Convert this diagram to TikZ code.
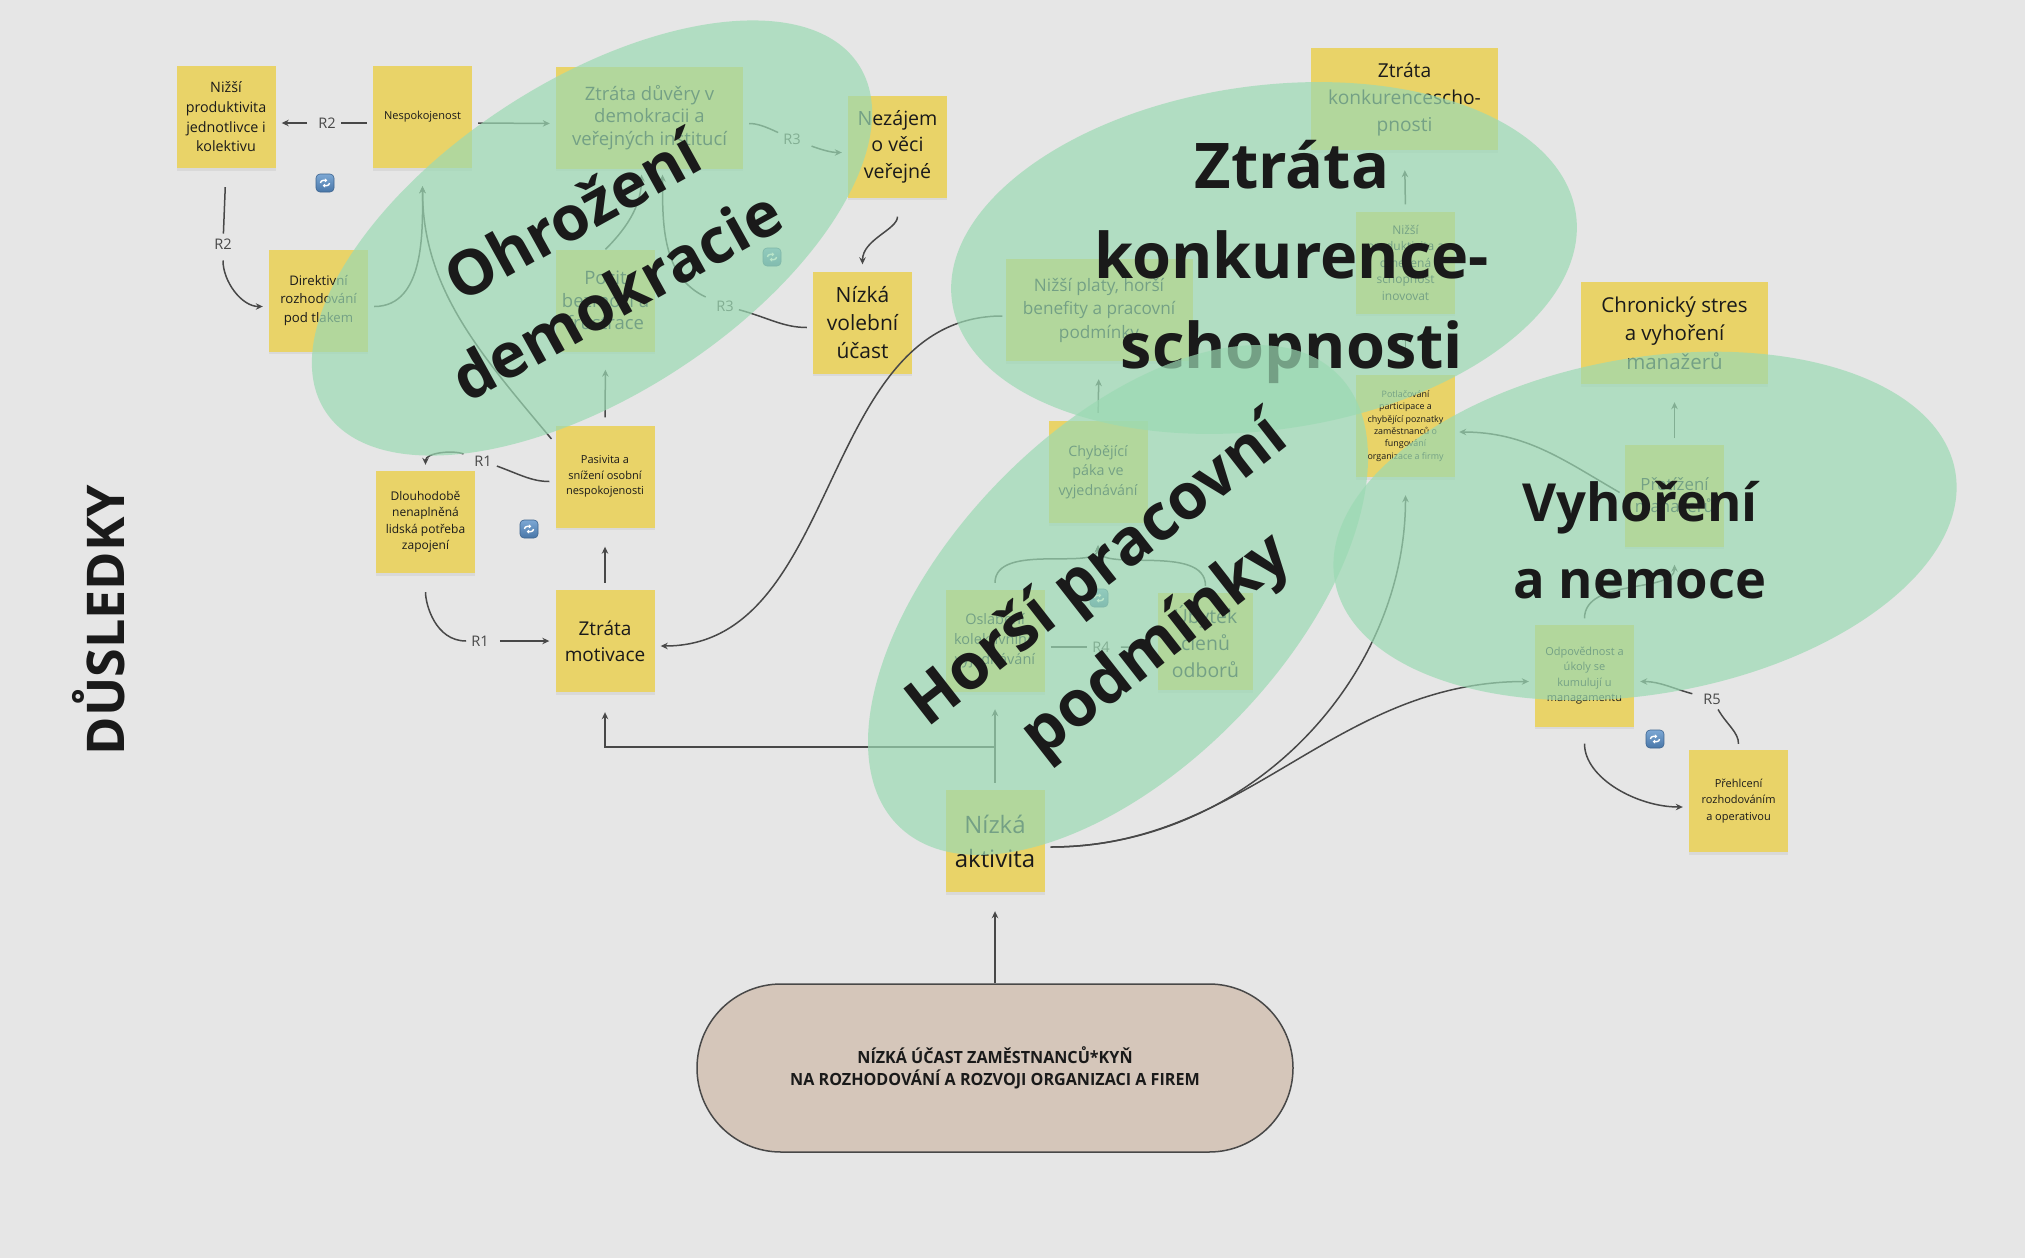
\documentclass[tikz,border=0pt]{standalone}
\usepackage{fontspec}
\setmainfont{Open Sans}
\newfontfamily\condfont{Open Sans}[FakeStretch=0.96]
\usetikzlibrary{arrows.meta,shadows}
\definecolor{bgcol}{RGB}{230,230,230}
\definecolor{notecol}{RGB}{233,211,104}
\definecolor{blobcol}{RGB}{155,218,179}
\definecolor{linecol}{RGB}{72,72,72}
\definecolor{ink}{RGB}{26,26,26}
\definecolor{rootcol}{RGB}{213,198,186}
\definecolor{icontop}{RGB}{125,168,212}
\definecolor{iconbot}{RGB}{72,118,168}
\tikzset{
	note/.style={rectangle, fill=notecol, minimum width=99pt, minimum height=102pt, inner sep=0pt, align=center, text=ink, drop shadow={shadow xshift=0pt, shadow yshift=-2.5pt, opacity=0.12}},
	widenote/.style={note, minimum width=187pt},
	fsz/.style 2 args={font=\fontsize{#1}{#2}\selectfont},
	wire/.style={draw=linecol, line width=1.5pt, shorten <=6pt},
	arr/.style={wire, shorten >=6pt, -{Stealth[length=7pt,width=6.5pt]}},
	rlab/.style={fsz={14.6}{16}, text=linecol, inner sep=5pt},
	blob/.style={fill=blobcol, fill opacity=0.7},
	bigtext/.style 2 args={align=center, text=ink, font=\fontsize{#1}{#2}\selectfont\bfseries},
	loopbox/.style={rectangle, rounded corners=4pt, minimum size=18pt, inner sep=0pt, top color=icontop, bottom color=iconbot, draw=iconbot!85!black, line width=0.6pt},
	loopmark/.style={draw=white, line width=1.4pt, -{Triangle[length=2.4pt,width=4pt]}},
}
\def\loopicon#1(#2){%
	\node[loopbox] (#1) at (#2) {};
	\draw[loopmark] ([xshift=-4.5pt]#1.center) arc[start angle=180,end angle=90,radius=2.6pt] -- ++(4.2pt,0pt);
	\draw[loopmark] ([xshift=4.5pt]#1.center) arc[start angle=0,end angle=-90,radius=2.6pt] -- ++(-4.2pt,0pt);
}

\begin{document}
\begin{tikzpicture}[x=1pt,y=-1pt]
			%%%%% START %%%%%
			
			\fill[bgcol] (0,0) rectangle (2025,1258);
			\useasboundingbox (0,0) rectangle (2025,1258);
			
			\node[bigtext={52}{60}, rotate=90] (dusledky) at (99,620) {DŮSLEDKY};
			
			% notes, left part
			\node[note, fsz={14.3}{19.7}] (nizsiprod) at (226,117) {Nižší\\produktivita\\jednotlivce i\\kolektivu};
			\node[note, fsz={11}{15}] (nespok) at (422.5,117) {Nespokojenost};
			\node[widenote, fsz={18.5}{22.8}] (duvera) at (649.5,117.5) {Ztráta důvěry v\\demokracii a\\veřejných institucí};
			\node[note, fsz={19.6}{26.5}] (nezajem) at (897.5,146.5) {Nezájem\\o věci\\veřejné};
			\node[note, fsz={21}{28}] (volebni) at (862.5,322.5) {Nízká\\volební\\účast};
			\node[note, fsz={13.2}{18.3}] (direkt) at (318.5,300.5) {Direktivní\\rozhodování\\pod tlakem};
			\node[note, fsz={18.5}{22.5}] (pocit) at (605.5,300.5) {Pocit\\bezmoci a\\frustrace};
			\node[note, fsz={11}{15.5}] (pasivita) at (605,476.5) {Pasivita a\\snížení osobní\\nespokojenosti};
			\node[note, fsz={12}{16.4}] (dlouho) at (425.5,522) {Dlouhodobě\\nenaplněná\\lidská potřeba\\zapojení};
			\node[note, fsz={19}{26}] (motivace) at (605,641) {Ztráta\\motivace};
			
			% notes, middle part
			\node[widenote, fsz={17.2}{23.5}] (platy) at (1099,310) {Nižší platy, horší\\benefity a pracovní\\podmínky};
			\node[note, fsz={14.3}{19.5}] (packa) at (1098,472) {Chybějící\\páka ve\\vyjednávání};
			\node[note, fsz={14.5}{20}] (oslab) at (995,641) {Oslabení\\kolektivního\\vyjednávání};
			\node[note, minimum width=95pt, minimum height=97pt, fsz={19.4}{27}] (ubytek) at (1205.5,641.5) {Úbytek\\členů\\odborů};
			\node[note, fsz={24}{34}] (aktivita) at (995,841) {Nízká\\aktivita};
			
			% notes, right part
			\node[widenote, fsz={19.2}{27}] (konkur) at (1404.5,99) {Ztráta\\konkurencescho-\\pnosti};
			\node[note, fsz={12}{16.5}] (inovace) at (1405.5,262.5) {Nižší\\produktivita a\\omezená\\schopnost\\inovovat};
			\node[note, fsz={8.9}{12.3}] (potlac) at (1405.5,426) {Potlačování\\participace a\\chybějící poznatky\\zaměstnanců o\\fungování\\organizace a firmy};
			\node[widenote, fsz={20.5}{28.5}] (stres) at (1674.5,333) {Chronický stres\\a vyhoření\\manažerů};
			\node[note, fsz={16.8}{22}] (pretiz) at (1674.5,495.5) {Přetížení\\manažerů};
			\node[note, fsz={11}{15.3}] (odpov) at (1584.5,675.5) {Odpovědnost a\\úkoly se\\kumulují u\\managamentu};
			\node[note, fsz={11}{16.5}] (prehl) at (1738.5,801) {Přehlcení\\rozhodováním\\a operativou};
			
			\node[rectangle, rounded corners=84pt, minimum width=596pt, minimum height=168pt, fill=rootcol, draw=linecol, line width=1.5pt, align=center, text=ink, font=\condfont\bfseries\fontsize{16.8}{21.7}\selectfont] (zdroj) at (995,1068) {NÍZKÁ ÚČAST ZAMĚSTNANCŮ*KYŇ\\NA ROZHODOVÁNÍ A ROZVOJI ORGANIZACI A FIREM};
			
			% loop labels
			\node[rlab] (r2top) at (327,123) {R2};
			\node[rlab] (r2left) at (223,244) {R2};
			\node[rlab] (r3top) at (792,139) {R3};
			\node[rlab] (r3low) at (725,306) {R3};
			\node[rlab] (r1top) at (483,461) {R1};
			\node[rlab] (r1low) at (480,641) {R1};
			\node[rlab] (r4) at (1101,647) {R4};
			\node[rlab] (r5) at (1712,699) {R5};
			\coordinate (split) at (995,747);
			
			% R2
			\draw[wire] ([yshift=-6pt]nespok.west) -- (r2top);
			\draw[arr] (r2top) -- ([yshift=-6pt]nizsiprod.east);
			\draw[wire, shorten <=19pt] (nizsiprod.south) -- (r2left);
			\draw[arr] (r2left) to[out=-90,in=180] ([yshift=-6pt]direkt.west);
			\draw[arr, shorten >=18pt] ([yshift=-6pt]direkt.east) to[out=0,in=-90] (nespok.south);
			\draw[arr, shorten >=18pt] ([yshift=33pt]pasivita.west) to[out=130,in=-90] (nespok.south);
			
			% R3
			\draw[arr] ([yshift=-6pt]nespok.east) -- ([yshift=-6pt]duvera.west);
			\draw[wire] ([yshift=-6pt]duvera.east) to[out=0,in=155] (r3top);
			\draw[arr] (r3top) to[out=-20,in=180] ([yshift=-6pt]nezajem.west);
			\draw[arr, shorten <=19pt, shorten >=7pt] (nezajem.south) to[out=-90,in=90] (volebni.north);
			\draw[wire] ([yshift=-5pt]volebni.west) to[out=180,in=-15] (r3low);
			\draw[arr] (r3low) to[out=155,in=-90] ([xshift=13pt]duvera.south);
			\draw[arr, shorten <=0pt] (pocit.north) to[out=45,in=-90] ([xshift=-8pt]duvera.south);
			\draw[arr, shorten <=8pt, shorten >=18pt] (pasivita.north) -- (pocit.south);
			
			% R1
			\draw[arr, shorten <=7pt, shorten >=19pt] (motivace.north) -- (pasivita.south);
			\draw[wire] ([yshift=-5pt]pasivita.west) to[out=180,in=-20] (r1top);
			\draw[arr] (r1top) to[out=160,in=90] (dlouho.north);
			\draw[wire, shorten <=19pt] (dlouho.south) to[out=-90,in=180] (r1low);
			\draw[arr] (r1low) -- (motivace.west);
			\draw[arr, shorten <=3pt] ([yshift=-6pt]platy.west) to[out=180,in=0] ([yshift=-5pt]motivace.east);
			
			% R4
			\draw[arr, shorten <=7pt, shorten >=17pt] (aktivita.north) -- (oslab.south);
			\draw[arr, shorten <=0pt, shorten >=20pt] (split) -| (motivace.south);
			\draw[wire] ([yshift=-6pt]oslab.east) -- (r4);
			\draw[arr] (r4) -- ([yshift=-6pt]ubytek.west);
			\draw[arr, shorten <=7pt, shorten >=22pt] (oslab.north) to[out=90,in=-90] (packa.south);
			\draw[arr, shorten <=7pt, shorten >=22pt] (ubytek.north) to[out=90,in=-90] (packa.south);
			\draw[arr, shorten <=8pt, shorten >=18pt] (packa.north) -- (platy.south);
			
			% right part
			\draw[arr, shorten <=7pt, shorten >=20pt] (inovace.north) -- (konkur.south);
			\draw[arr, shorten <=7pt, shorten >=20pt] (potlac.north) -- (inovace.south);
			\draw[arr, shorten >=4pt] (pretiz.west) to[out=150,in=0] ([yshift=-6pt]potlac.east);
			\draw[arr, shorten >=18pt] (pretiz.north) -- (stres.south);
			\draw[arr, shorten >=18pt] (odpov.north) to[out=90,in=-90] (pretiz.south);
			\draw[arr, shorten <=17pt] (odpov.south) to[out=-90,in=180] ([yshift=-6pt]prehl.west);
			\draw[wire] (prehl.north) to[out=90,in=-60] (r5);
			\draw[arr] (r5) to[out=165,in=0] ([yshift=-6pt]odpov.east);
			\draw[arr, shorten >=18pt] ([yshift=-6pt]aktivita.east) to[out=0,in=-90] (potlac.south);
			\draw[arr] ([yshift=-6pt]aktivita.east) to[out=0,in=180] ([yshift=-6pt]odpov.west);
			\draw[arr, shorten <=0pt, shorten >=19pt] (zdroj.north) -- (aktivita.south);
			
			\loopicon{loopa}(325,183)
			\loopicon{loopb}(529,529)
			\loopicon{loopc}(772,257)
			\loopicon{loopd}(1099,598)
			\loopicon{loope}(1655,739)
			
			% groups
			\fill[blob, shift={(592,238)}, rotate=33] (0,0) ellipse [x radius=318pt, y radius=157pt];
			\node[bigtext={62}{91}, rotate=29] (lbldemo) at (594,255) {Ohrožení\\demokracie};
			\fill[blob, shift={(1264,258)}, rotate=8] (0,0) ellipse [x radius=315pt, y radius=172pt];
			\node[bigtext={63}{90}] (lblkonk) at (1292,262) {Ztráta\\konkurence-\\schopnosti};
			\fill[blob, shift={(1118,600)}, rotate=46] (0,0) ellipse [x radius=315pt, y radius=168pt];
			\node[bigtext={64}{95}, rotate=38] (lblprac) at (1128,610) {Horší pracovní\\podmínky};
			\fill[blob, shift={(1645,526)}, rotate=10] (0,0) ellipse [x radius=315pt, y radius=168pt];
			\node[bigtext={52.5}{77}] (lblvyh) at (1640,540) {Vyhoření\\a nemoce};
			
			%%%%% END %%%%%
		\end{tikzpicture}
\end{document}
